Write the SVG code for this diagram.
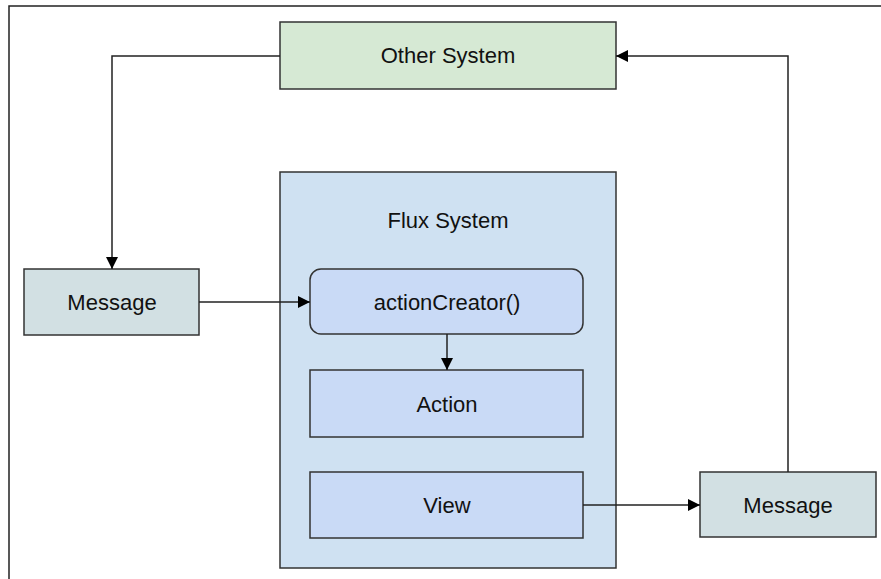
<svg xmlns="http://www.w3.org/2000/svg" width="881" height="579" viewBox="0 0 881 579">
<defs>
<marker id="arr" viewBox="0 0 12 12" refX="12" refY="6" markerWidth="12" markerHeight="12" markerUnits="userSpaceOnUse" orient="auto">
<path d="M0,0 L12,6 L0,12 Z" fill="#000"/>
</marker>
</defs>
<style>
.box{stroke:#333;stroke-width:1.5}
.lbl{font-family:"Liberation Sans",Arial,sans-serif;font-size:22px;fill:#111;text-anchor:middle;dominant-baseline:central}
.conn{fill:none;stroke:#222;stroke-width:1.5}
</style>
<rect width="881" height="579" fill="#fff"/>
<path d="M881,6 H9 V579" fill="none" stroke="#222" stroke-width="1.5"/>
<g id="other-system">
<rect class="box" x="280" y="22" width="336" height="67" fill="#D6E9D4"/>
<text class="lbl" x="448" y="55">Other System</text>
</g>
<g id="flux-system">
<rect class="box" x="280" y="172" width="336" height="396" fill="#CFE1F2"/>
<text class="lbl" x="448" y="220">Flux System</text>
</g>
<g id="action-creator">
<rect class="box" x="310" y="269" width="273" height="65" rx="11" fill="#C9DAF6"/>
<text class="lbl" x="447" y="302">actionCreator()</text>
</g>
<g id="action">
<rect class="box" x="310" y="370" width="273" height="67" fill="#C9DAF6"/>
<text class="lbl" x="447" y="404">Action</text>
</g>
<g id="view">
<rect class="box" x="310" y="472" width="273" height="66" fill="#C9DAF6"/>
<text class="lbl" x="447" y="505">View</text>
</g>
<g id="message-left">
<rect class="box" x="24" y="269" width="175" height="66" fill="#D2E0E3"/>
<text class="lbl" x="112" y="302">Message</text>
</g>
<g id="message-right">
<rect class="box" x="700" y="472" width="176" height="65" fill="#D2E0E3"/>
<text class="lbl" x="788" y="505">Message</text>
</g>
<g id="connectors">
<path class="conn" d="M280,56 H112 V269" marker-end="url(#arr)"/>
<path class="conn" d="M199,302 H310" marker-end="url(#arr)"/>
<path class="conn" d="M447,334 V370" marker-end="url(#arr)"/>
<path class="conn" d="M583,505 H700" marker-end="url(#arr)"/>
<path class="conn" d="M788,472 V56 H616" marker-end="url(#arr)"/>
</g>
</svg>
